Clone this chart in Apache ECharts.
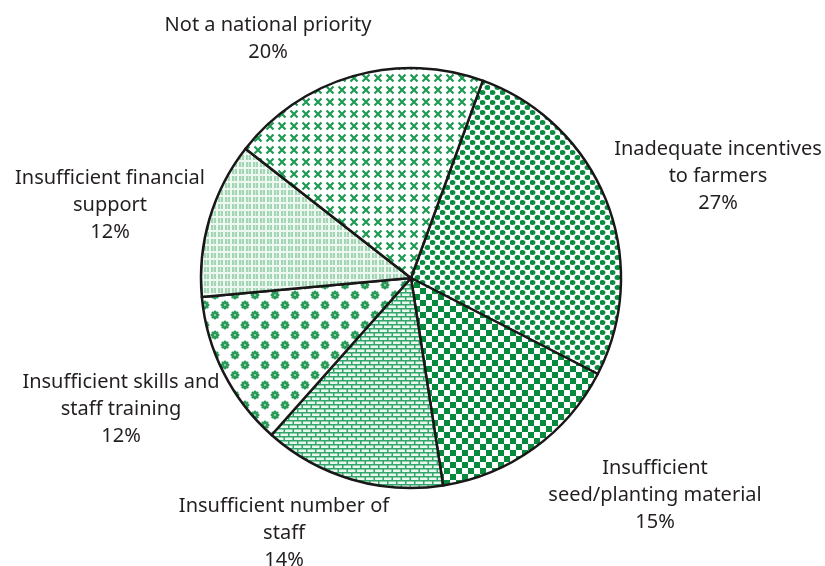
<!DOCTYPE html>
<html>
<head>
<meta charset="utf-8">
<script src="https://cdn.jsdelivr.net/npm/echarts@6/dist/echarts.min.js"></script>
<style>
  html, body { margin: 0; padding: 0; background: #fff; }
  #pie { width: 825px; height: 566px; }
</style>
</head>
<body>
<div id="pie"></div>
<script>
// slices, clockwise from the top-right boundary
const names = [
  'Inadequate incentives\nto farmers',
  'Insufficient\nseed/planting material',
  'Insufficient number of\nstaff',
  'Insufficient skills and\nstaff training',
  'Insufficient financial\nsupport',
  'Not a national priority'
];
const values = [27, 15, 14, 12, 12, 20];

// label block centres (layout only)
const labelPos = [[718, 176], [655, 495], [284, 533], [121, 409], [110, 205], [268, 39]];

function tile(w, h, draw) {
  const c = document.createElement('canvas');
  c.width = w; c.height = h;
  const ctx = c.getContext('2d');
  draw(ctx);
  return { image: c, repeat: 'repeat' };
}

// dense green dots
const dots = tile(10, 10, ctx => {
  ctx.fillStyle = '#fff'; ctx.fillRect(0, 0, 10, 10);
  ctx.fillStyle = '#0a8c40';
  [[2.5, 2.5], [7.5, 7.5]].forEach(p => {
    ctx.beginPath(); ctx.ellipse(p[0], p[1], 2.9, 2.5, 0, 0, Math.PI * 2); ctx.fill();
  });
});
// checkerboard
const checker = tile(12, 12, ctx => {
  ctx.fillStyle = '#fff'; ctx.fillRect(0, 0, 12, 12);
  ctx.fillStyle = '#088a3e';
  ctx.fillRect(0, 0, 6, 6); ctx.fillRect(6, 6, 6, 6);
});
// small bricks
const bricks = tile(9, 8, ctx => {
  ctx.fillStyle = '#eaf7ef'; ctx.fillRect(0, 0, 9, 8);
  ctx.fillStyle = '#32a56a';
  ctx.fillRect(0, 0, 9, 1.5); ctx.fillRect(0, 4, 9, 1.5);
  ctx.fillRect(0, 0, 1.5, 4); ctx.fillRect(4.5, 4, 1.5, 4);
});
// green star dots
function star(ctx, x, y) {
  ctx.fillStyle = '#2a9a58';
  for (let k = 0; k < 8; k++) {
    const a = k * Math.PI / 4;
    ctx.beginPath();
    ctx.arc(x + Math.cos(a) * 3.2, y + Math.sin(a) * 3.2, 1.3, 0, Math.PI * 2);
    ctx.fill();
  }
  ctx.beginPath(); ctx.arc(x, y, 3, 0, Math.PI * 2); ctx.fill();
  ctx.fillStyle = '#9fd8b4';
  ctx.beginPath(); ctx.arc(x, y, 1.1, 0, Math.PI * 2); ctx.fill();
}
const stars = tile(20, 20, ctx => {
  ctx.fillStyle = '#fff'; ctx.fillRect(0, 0, 20, 20);
  star(ctx, 5, 5); star(ctx, 15, 15);
});
// pale squares
const pale = tile(7, 7, ctx => {
  ctx.fillStyle = '#eef8f1'; ctx.fillRect(0, 0, 7, 7);
  ctx.fillStyle = '#a2d6b4'; ctx.fillRect(1, 1, 5, 5);
  ctx.fillStyle = '#d2ecdd'; ctx.fillRect(3, 1, 1, 5);
});
// green crosses
const crosses = tile(12, 12, ctx => {
  ctx.fillStyle = '#fff'; ctx.fillRect(0, 0, 12, 12);
  ctx.strokeStyle = '#1f9a52'; ctx.lineWidth = 2.2;
  ctx.beginPath();
  ctx.moveTo(2.5, 2.5); ctx.lineTo(9.5, 9.5);
  ctx.moveTo(9.5, 2.5); ctx.lineTo(2.5, 9.5);
  ctx.stroke();
});

const fills = [dots, checker, bricks, stars, pale, crosses];

const chart = echarts.init(document.getElementById('pie'));
chart.setOption({
  backgroundColor: '#fff',
  animation: false,
  series: [{
    type: 'pie',
    center: [411, 278],
    radius: 210,
    startAngle: 70,
    clockwise: true,
    avoidLabelOverlap: false,
    itemStyle: { borderColor: '#1a1718', borderWidth: 2.5 },
    label: {
      show: true,
      position: 'outside',
      formatter: '{b}\n{c}%',
      color: '#231f20',
      fontFamily: 'Noto Sans',
      fontSize: 20,
      lineHeight: 27,
      align: 'center'
    },
    labelLine: { show: false },
    labelLayout: function (params) {
      const p = labelPos[params.dataIndex];
      return { x: p[0], y: p[1], align: 'center', verticalAlign: 'middle' };
    },
    emphasis: { disabled: true },
    data: names.map((n, i) => ({ name: n, value: values[i], itemStyle: { color: fills[i] } }))
  }]
});
</script>
</body>
</html>
